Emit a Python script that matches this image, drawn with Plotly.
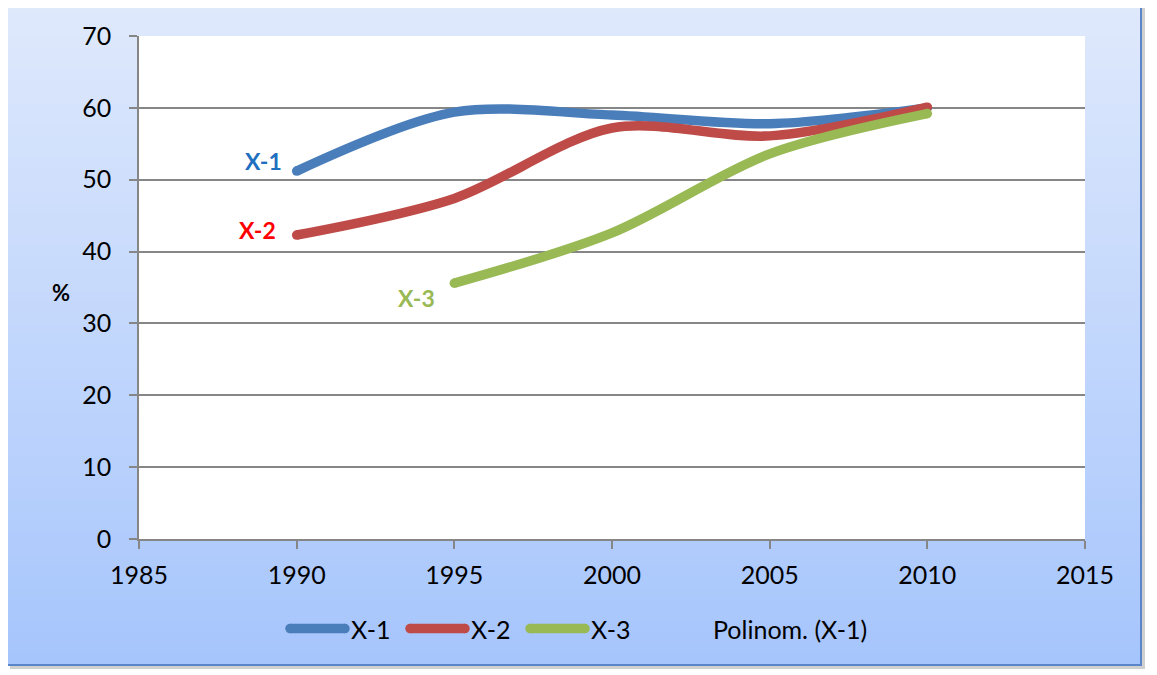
import plotly.graph_objects as go

years = [1990, 1995, 2000, 2005, 2010]
x1_vals = [51.2, 59.4, 59.0, 57.8, 60.0]
x2_vals = [42.3, 47.4, 57.2, 56.1, 60.1]
x3_years = [1995, 2000, 2005, 2010]
x3_vals = [35.6, 42.6, 53.6, 59.2]

series_names = ["X-1", "X-2", "X-3"]
trend_name = "Polinom. (X-1)"
x_ticks = [1985, 1990, 1995, 2000, 2005, 2010, 2015]
y_ticks = [0, 10, 20, 30, 40, 50, 60, 70]

colors = ["#4a7ebb", "#be4b48", "#98b954"]
label_colors = ["#1f6fc0", "#ff0000", "#98b954"]
FONT = "Lato"
FS = 25
LW = 9.5

OFF = 8  # browser body margin
W, H = 1157 - OFF, 675 - OFF
L, T = 139 - OFF, 28 - OFF
R = W - (1085 - OFF)
B = H - (539 - OFF)
pw, ph = W - L - R, H - T - B

def px2paper_x(px):
    return (px - OFF - L) / pw

def px2paper_y(py):
    return (H - B - (py - OFF)) / ph

fig = go.Figure()
for name, xs, ys, col in [(series_names[0], years, x1_vals, colors[0]),
                          (series_names[1], years, x2_vals, colors[1]),
                          (series_names[2], x3_years, x3_vals, colors[2])]:
    fig.add_trace(go.Scatter(x=xs, y=ys, name=name, mode="lines",
                             line=dict(color=col, width=LW, shape="spline", smoothing=0.9),
                             showlegend=False))
    # rounded line ends
    fig.add_trace(go.Scatter(x=[xs[0], xs[-1]], y=[ys[0], ys[-1]], name=name, mode="markers",
                             marker=dict(color=col, size=LW, opacity=1, line=dict(width=0)),
                             showlegend=False, hoverinfo="skip"))

shapes = []
top_c = (223, 233, 252)
bot_c = (166, 197, 252)
gx0, gx1, gy0, gy1 = 7, 1141, -5, 667
n = 60
shapes.append(dict(type="rect", xref="paper", yref="paper", layer="below",
                   x0=px2paper_x(gx0 + 3), x1=px2paper_x(gx1 + 4),
                   y0=px2paper_y(gy0), y1=px2paper_y(gy1 + 4),
                   fillcolor="rgba(150,150,150,0.45)", line=dict(width=0)))
for i in range(n):
    t = (i + 0.5) / n
    c = tuple(round(top_c[k] + (bot_c[k] - top_c[k]) * t) for k in range(3))
    ya = gy0 + (gy1 - gy0) * i / n
    yb = gy0 + (gy1 - gy0) * (i + 1) / n + 0.8
    shapes.append(dict(type="rect", xref="paper", yref="paper", layer="below",
                       x0=px2paper_x(gx0), x1=px2paper_x(gx1),
                       y0=px2paper_y(ya), y1=px2paper_y(min(yb, gy1)),
                       fillcolor="rgb(%d,%d,%d)" % c, line=dict(width=0)))
shapes.append(dict(type="rect", xref="paper", yref="paper", layer="below",
                   x0=px2paper_x(gx0), x1=px2paper_x(gx1),
                   y0=px2paper_y(gy0), y1=px2paper_y(gy1),
                   fillcolor="rgba(0,0,0,0)", line=dict(color="#5a86c9", width=2)))
shapes.append(dict(type="rect", xref="x", yref="y", layer="below",
                   x0=x_ticks[0], x1=x_ticks[-1], y0=y_ticks[0], y1=y_ticks[-1],
                   fillcolor="white", line=dict(width=0)))

# legend (drawn as shapes + text so that the symbol length matches)
leg_y = 630
leg_items = [(290, 345, colors[0], series_names[0]),
             (410, 465, colors[1], series_names[1]),
             (530, 585, colors[2], series_names[2])]
annotations = []
for xa, xb, col, name in leg_items:
    shapes.append(dict(type="line", xref="paper", yref="paper",
                       x0=px2paper_x(xa), x1=px2paper_x(xb),
                       y0=px2paper_y(leg_y), y1=px2paper_y(leg_y),
                       line=dict(color=col, width=LW)))
    for xe in (xa, xb):
        shapes.append(dict(type="circle", xref="paper", yref="paper",
                           xsizemode="pixel", ysizemode="pixel",
                           xanchor=px2paper_x(xe), yanchor=px2paper_y(leg_y),
                           x0=-LW / 2, x1=LW / 2, y0=-LW / 2, y1=LW / 2,
                           fillcolor=col, line=dict(width=0)))
    annotations.append(dict(xref="paper", yref="paper", x=px2paper_x(xb + 4),
                            y=px2paper_y(leg_y), xanchor="left", yanchor="middle",
                            text=name, showarrow=False,
                            font=dict(color="black", size=FS, family=FONT)))
annotations.append(dict(xref="paper", yref="paper", x=px2paper_x(711),
                        y=px2paper_y(leg_y), xanchor="left", yanchor="middle",
                        text=trend_name, showarrow=False,
                        font=dict(color="black", size=FS, family=FONT)))

annotations += [
    dict(x=1988.95, y=52.6, text="<b>X-1</b>", showarrow=False,
         xanchor="center", yanchor="middle",
         font=dict(color=label_colors[0], size=23, family=FONT)),
    dict(x=1988.75, y=43.0, text="<b>X-2</b>", showarrow=False,
         xanchor="center", yanchor="middle",
         font=dict(color=label_colors[1], size=23, family=FONT)),
    dict(x=1993.8, y=33.6, text="<b>X-3</b>", showarrow=False,
         xanchor="center", yanchor="middle",
         font=dict(color=label_colors[2], size=23, family=FONT)),
    dict(xref="paper", yref="paper", x=px2paper_x(61), y=px2paper_y(289),
         xanchor="center", yanchor="middle",
         text="<b>%</b>", showarrow=False,
         font=dict(color="black", size=22, family=FONT)),
]

fig.update_layout(
    width=W, height=H,
    margin=dict(l=L, r=R, t=T, b=B, pad=0),
    paper_bgcolor="white",
    plot_bgcolor="rgba(0,0,0,0)",
    font=dict(family=FONT, size=FS, color="black"),
    shapes=shapes,
    annotations=annotations,
    showlegend=False,
    xaxis=dict(range=[x_ticks[0], x_ticks[-1]], tickvals=x_ticks,
               showgrid=False, showline=True, linecolor="#868686", linewidth=1.5,
               ticks="outside", ticklen=8, tickcolor="#868686", tickwidth=1.5,
               ticklabelstandoff=5,
               zeroline=False, tickfont=dict(size=FS, family=FONT)),
    yaxis=dict(range=[y_ticks[0], y_ticks[-1]], tickvals=y_ticks,
               showgrid=True, gridcolor="#868686", gridwidth=1.5,
               showline=True, linecolor="#868686", linewidth=1.5,
               ticks="outside", ticklen=8, tickcolor="#868686", tickwidth=1.5,
               ticklabelstandoff=13,
               zeroline=False, tickfont=dict(size=FS, family=FONT)),
)

fig.write_html("out.html")
